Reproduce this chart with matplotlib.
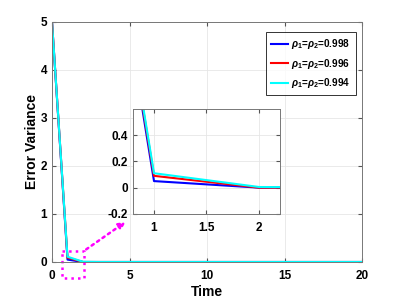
import matplotlib
matplotlib.use("Agg")
import matplotlib.pyplot as plt
import numpy as np

# data
t = np.arange(0, 21)
ev_998 = [5.0, 0.05, 0.0] + [0.0] * 18
ev_996 = [5.0, 0.09, 0.0] + [0.0] * 18
ev_994 = [5.0, 0.11, 0.005] + [0.0] * 18
labels = [r'$\rho_1$=$\rho_2$=0.998', r'$\rho_1$=$\rho_2$=0.996', r'$\rho_1$=$\rho_2$=0.994']
colors = ['blue', 'red', 'cyan']

plt.rcParams['font.family'] = 'Liberation Sans'
plt.rcParams['font.weight'] = 'bold'
plt.rcParams['mathtext.fontset'] = 'custom'
plt.rcParams['mathtext.it'] = 'Liberation Sans:italic'
plt.rcParams['mathtext.rm'] = 'Liberation Sans'

fig = plt.figure(figsize=(4, 3), dpi=100)
ax = fig.add_axes([0.13, 0.1267, 0.775, 0.8])

for y, c, lab in zip([ev_998, ev_996, ev_994], colors, labels):
    ax.plot(t, y, color=c, lw=1.5, label=lab)

ax.set_xlim(0, 20)
ax.set_ylim(0, 5)
ax.set_xticks([0, 5, 10, 15, 20])
ax.set_yticks([0, 1, 2, 3, 4, 5])
ax.grid(True, color='#e6e6e6', lw=0.6)
ax.set_axisbelow(True)
ax.tick_params(labelsize=8.5, length=3, direction='in', color='#555555', top=True, right=True)
ax.tick_params(axis='x', pad=6)
for s in ax.spines.values():
    s.set_color('#777777')
    s.set_linewidth(0.7)
ax.set_xlabel('Time', fontsize=10, fontweight='bold', labelpad=2)
ax.set_ylabel('Error Variance', fontsize=10, fontweight='bold', labelpad=1)

leg = ax.legend(loc='upper right', fontsize=7.2, frameon=True, fancybox=False,
                edgecolor='black', handlelength=1.7, handletextpad=0.3,
                borderpad=0.5, labelspacing=0.55,
                bbox_to_anchor=(0.98, 0.958), borderaxespad=0)
leg.get_frame().set_linewidth(0.7)
for txt in leg.get_texts():
    txt.set_fontweight('bold')

# zoom box and arrow
ax.plot([0.63, 2.06, 2.06, 0.63, 0.63], [0.23, 0.23, -0.33, -0.33, 0.23],
        color='magenta', ls=':', lw=1.8, clip_on=False)
ax.annotate('', xy=(4.9, 0.87), xytext=(2.06, 0.23),
            arrowprops=dict(arrowstyle='-|>', color='magenta', ls=':', lw=1.8,
                            mutation_scale=10),
            annotation_clip=False)

# inset
ins = fig.add_axes([0.3325, 0.287, 0.3675, 0.35])
for y, c in zip([ev_998, ev_996, ev_994], colors):
    ins.plot(t, y, color=c, lw=1.5)
ins.set_xlim(0.8, 2.2)
ins.set_ylim(-0.2, 0.6)
ins.set_xticks([1, 1.5, 2])
ins.set_xticklabels(['1', '1.5', '2'])
ins.set_yticks([-0.2, 0, 0.2, 0.4])
ins.set_yticklabels(['-0.2', '0', '0.2', '0.4'])
ins.grid(True, color='#e6e6e6', lw=0.6)
ins.tick_params(labelsize=8.5, length=3, direction='in', color='#555555', top=True, right=True)
ins.tick_params(axis='x', pad=6)
for s in ins.spines.values():
    s.set_color('#777777')
    s.set_linewidth(0.7)

fig.savefig('out.png', dpi=100)
